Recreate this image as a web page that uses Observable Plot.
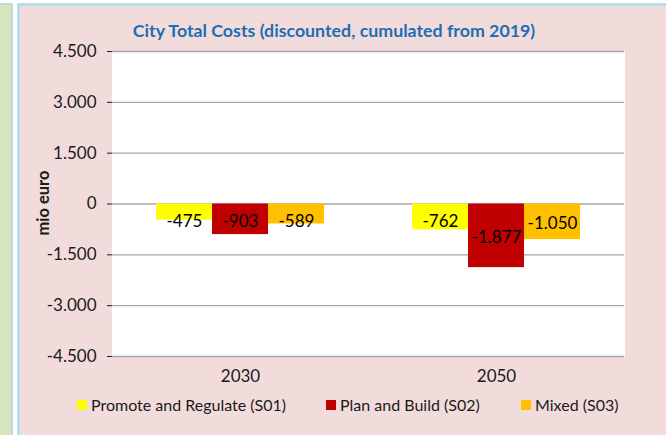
<!DOCTYPE html>
<html>
<head>
<meta charset="utf-8">
<script src="https://cdn.jsdelivr.net/npm/d3@7"></script>
<script src="https://cdn.jsdelivr.net/npm/@observablehq/plot@0.6"></script>
<style>
  html, body { margin: 0; padding: 0; background: #ffffff; width: 666px; height: 435px; overflow: hidden; }
  #green { position: absolute; left: 0; top: 3px; height: 432px; background: #D8E4BC; border-top: 2px solid #B7DDE8; border-right: 2px solid #B7DDE8; box-sizing: border-box; width: 13px; }
  #pink { position: absolute; left: 17px; top: 3px; width: 660px; height: 440px; background: #F2DCDB; border-top: 3px solid #B7DDE8; border-left: 3px solid #B7DDE8; box-sizing: border-box; }
  #chart { position: absolute; left: 0; top: 0; }
  #title { position: absolute; left: 0; top: 19px; width: 668px; text-align: center; font-family: Lato, sans-serif; font-weight: bold; font-size: 17.8px; color: #1F6DB4; }
  #ylabel { position: absolute; left: 43px; top: 203px; transform: translate(-50%, -50%) rotate(-90deg); font-family: Lato, sans-serif; font-weight: bold; font-size: 16.5px; color: #1a1a1a; white-space: nowrap; }
  #legend { position: absolute; top: 395px; left: 0; width: 666px; font-family: Lato, sans-serif; font-size: 16px; color: #1a1a1a; }
  .item { position: absolute; display: flex; align-items: center; white-space: nowrap; }
  .sw { width: 10px; height: 10px; margin-right: 4px; }
</style>
</head>
<body>
<div id="green"></div>
<div id="pink"></div>
<div id="chart"></div>
<div id="title">City Total Costs (discounted, cumulated from 2019)</div>
<div id="ylabel">mio euro</div>
<div id="legend"></div>
<script>
const years = ["2030", "2050"];
const scenarios = ["Promote and Regulate (S01)", "Plan and Build (S02)", "Mixed (S03)"];
const values2030 = [-475, -903, -589];
const values2050 = [-762, -1877, -1050];
const colors = ["#FFFF00", "#C00000", "#FFC000"];
const yTicks = [4500, 3000, 1500, 0, -1500, -3000, -4500];
const legendX = [77, 326, 521];

const locale = d3.formatLocale({decimal: ",", thousands: ".", grouping: [3], currency: ["", "€"], minus: "-"});
const fmt = locale.format(",d");

const data = [];
[values2030, values2050].forEach((vals, i) => {
  vals.forEach((v, j) => data.push({year: years[i], scenario: scenarios[j], value: v}));
});

const chart = Plot.plot({
  width: 666,
  height: 435,
  marginLeft: 112,
  marginRight: 42,
  marginTop: 51,
  marginBottom: 79,
  style: {background: "transparent", fontFamily: "Lato, sans-serif", fontSize: "17px", color: "#1a1a1a", overflow: "visible"},
  fx: {domain: years, padding: 0, label: null, axis: "bottom", tickSize: 0, tickPadding: 13},
  x: {domain: scenarios, paddingInner: 0, paddingOuter: 0.75, axis: null},
  y: {domain: [-4500, 4500], ticks: yTicks, tickFormat: fmt, label: null, tickSize: 5, tickPadding: 11, line: true},
  color: {domain: scenarios, range: colors},
  marks: [
    Plot.frame({fill: "white", stroke: null, insetLeft: -0.5, insetRight: -0.5}),
    Plot.gridY(yTicks, {stroke: "#a6a6a6", strokeOpacity: 1, strokeWidth: 1.3}),
    Plot.barY(data, {fx: "year", x: "scenario", y: "value", fill: "scenario", inset: 0}),
    Plot.text(data, {fx: "year", x: "scenario", y: d => Math.min(d.value / 2, -470), text: d => fmt(d.value), fill: "#000", fontSize: 17, dy: 1.5})
  ]
});
document.getElementById("chart").appendChild(chart);

const legend = document.getElementById("legend");
scenarios.forEach((s, i) => {
  const item = document.createElement("div");
  item.className = "item";
  item.style.left = legendX[i] + "px";
  const sw = document.createElement("div");
  sw.className = "sw";
  sw.style.background = colors[i];
  const t = document.createElement("span");
  t.textContent = s;
  item.appendChild(sw);
  item.appendChild(t);
  legend.appendChild(item);
});
</script>
</body>
</html>
